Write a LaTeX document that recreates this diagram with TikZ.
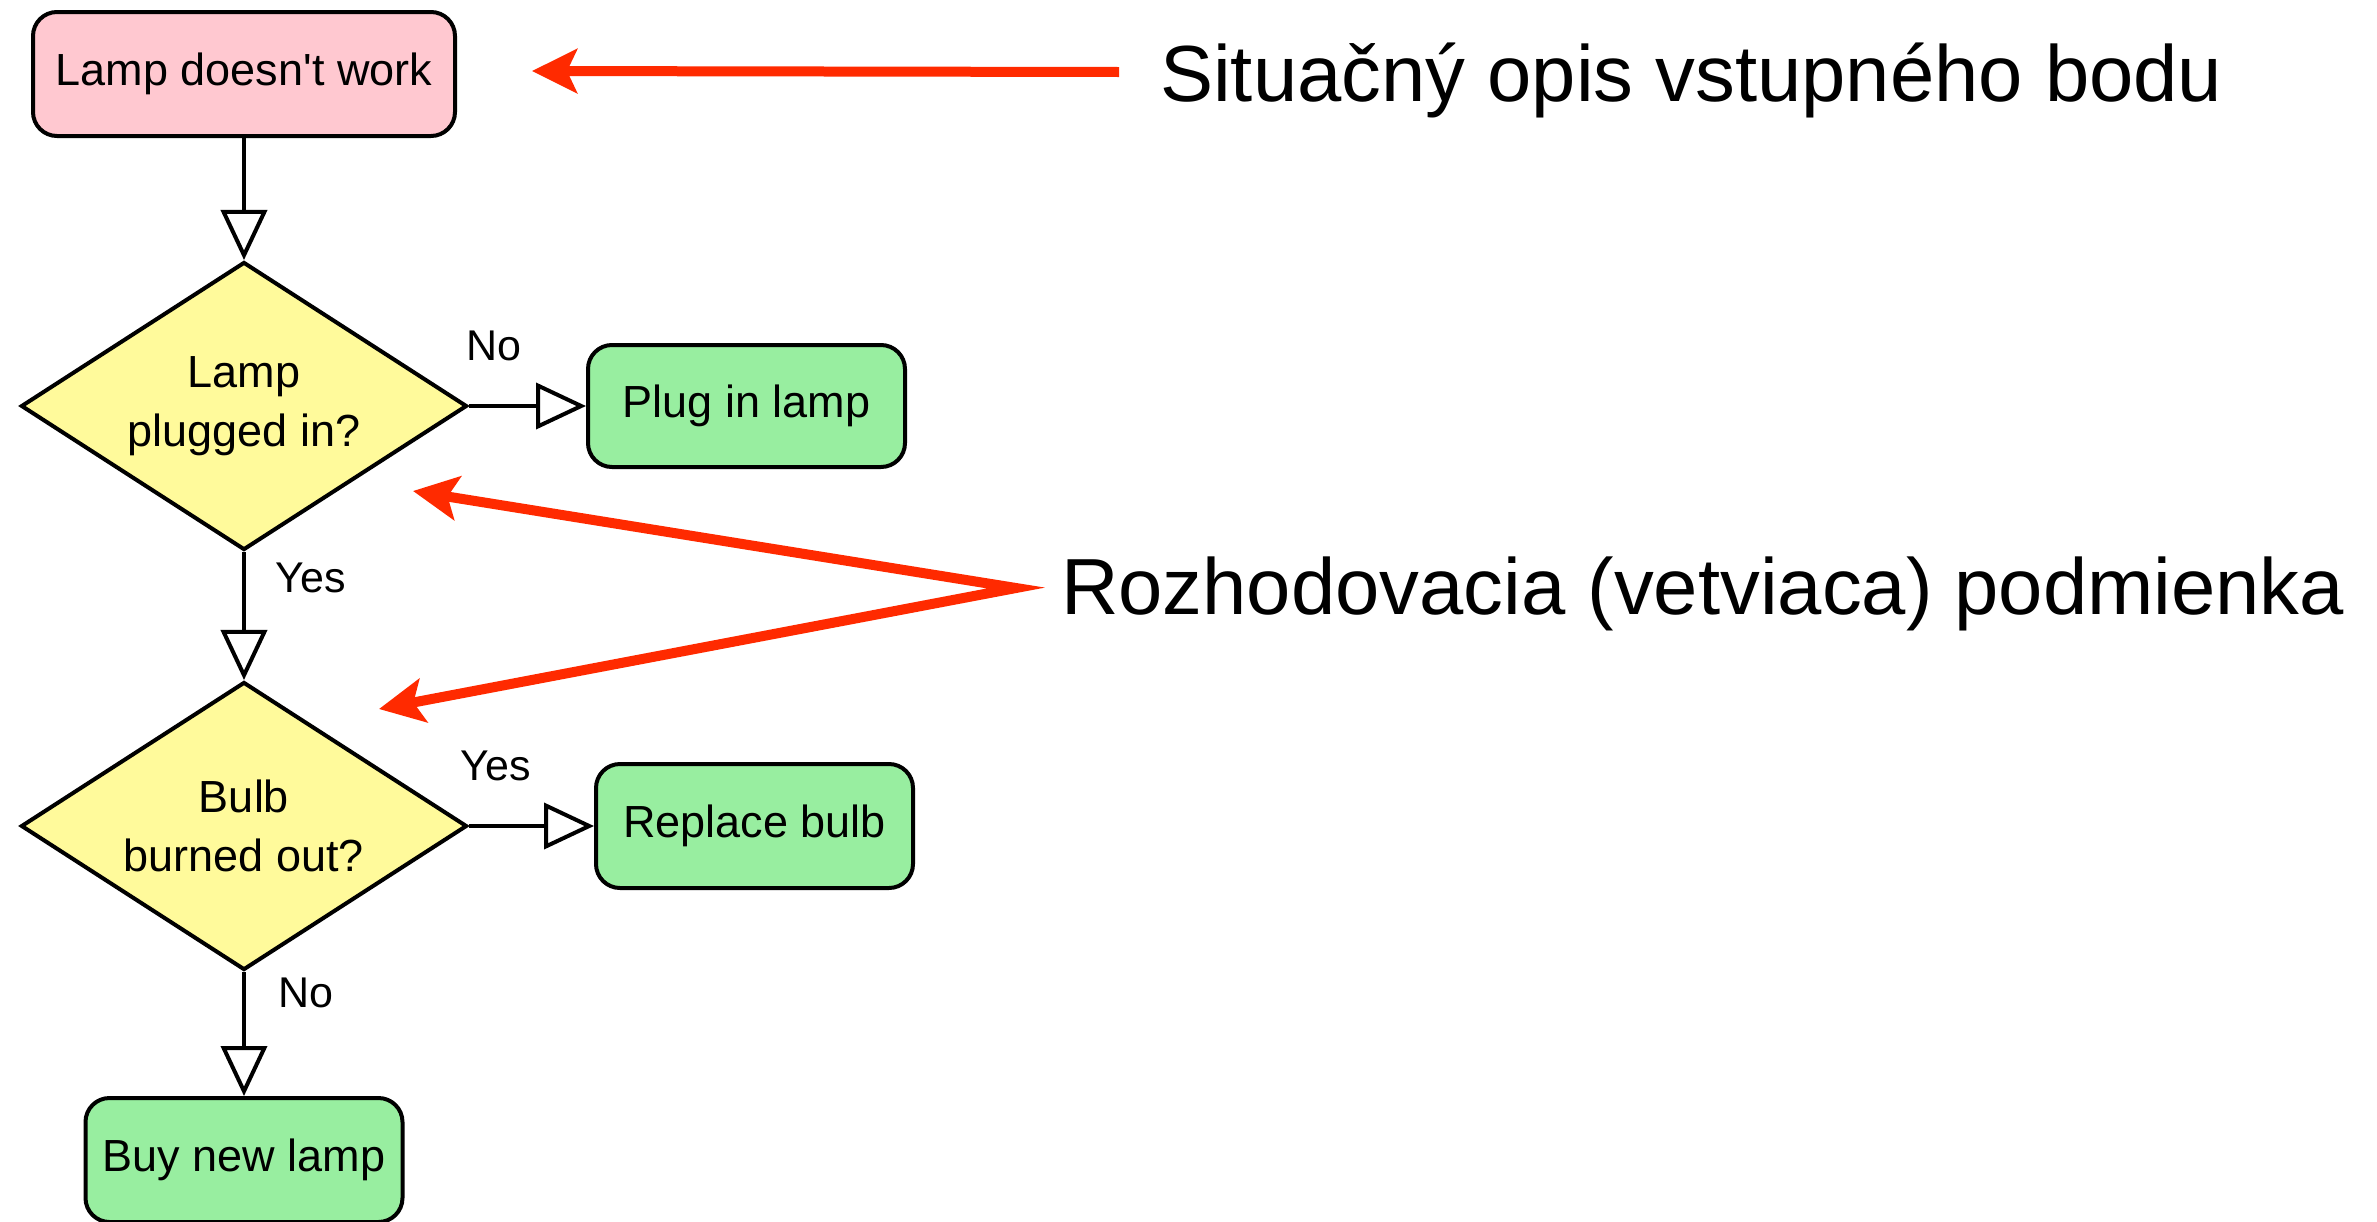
\documentclass[tikz,border=0pt]{standalone}
\usepackage{fontspec}
\setmainfont{Liberation Sans}[Ligatures=TeXOff]
\usetikzlibrary{shapes.geometric,arrows.meta}
\definecolor{pinkfill}{RGB}{255,200,208}
\definecolor{greenfill}{RGB}{152,238,160}
\definecolor{yellowfill}{RGB}{255,250,155}
\definecolor{redarrow}{RGB}{255,42,0}
\begin{document}
\begin{tikzpicture}[x=1pt,y=-1pt,
  box/.style={draw=black, line width=4pt, rounded corners=24pt, inner sep=0pt, font=\fontsize{45}{54}\selectfont},
  startbox/.style={box, fill=pinkfill, minimum width=422pt, minimum height=124pt},
  endbox/.style={box, fill=greenfill, minimum width=317pt, minimum height=122pt},
  decision/.style={diamond, draw=black, line width=4pt, fill=yellowfill, shape aspect=1.55,
    minimum width=446pt, minimum height=288pt, inner sep=0pt, align=center, font=\fontsize{45}{59}\selectfont},
  flow/.style={draw=black, line width=4pt, -{Triangle[length=50pt,width=46pt,fill=white]}},
  lbl/.style={font=\fontsize{43}{50}\selectfont, inner sep=0pt},
  callout/.style={draw=redarrow, line width=10pt},
  note/.style={font=\fontsize{79.6}{90}\selectfont, anchor=base west, inner sep=0pt}
]
\useasboundingbox (0,0) rectangle (2377,1221);

\node[startbox] (start) at (244,74) {Lamp doesn't work};
\node[decision] (d1) at (244,406) {Lamp\\plugged in?};
\node[endbox] (plug) at (746.5,406) {Plug in lamp};
\node[decision] (d2) at (244,826) {Bulb\\burned out?};
\node[endbox, minimum height=124pt] (rep) at (754.5,826) {Replace bulb};
\node[endbox, minimum height=124pt] (buy) at (244,1160) {Buy new lamp};

\draw[flow] (start) -- (d1);
\draw[flow] (d1.east) -- (d1.east -| plug.west);
\draw[flow] (d1) -- (d2);
\draw[flow] (d2.east) -- (d2.east -| rep.west);
\draw[flow] (d2) -- (buy);

\node[lbl] (no1) at (494,346) {No};
\node[lbl] (yes1) at (311,578) {Yes};
\node[lbl] (yes2) at (496,766) {Yes};
\node[lbl] (no2) at (306,993) {No};

\node[note] (n1) at (1160,101) {Situačný opis vstupného bodu};
\node[note] (n2) at (1061,614) {Rozhodovacia (vetviaca) podmienka};

\coordinate (c1s) at (1119,72);
\coordinate (c1e) at (532,71);
\draw[callout, -{Stealth[length=45pt,width=44pt,inset=10pt]}] (c1s) -- (c1e);

\coordinate (t1) at (413,491);
\coordinate (j) at (1016,588);
\coordinate (t2) at (379,709);
\draw[callout, line join=miter, {Stealth[length=45pt,width=44pt,inset=10pt]}-{Stealth[length=45pt,width=44pt,inset=10pt]}] (t1) -- (j) -- (t2);
\end{tikzpicture}
\end{document}
